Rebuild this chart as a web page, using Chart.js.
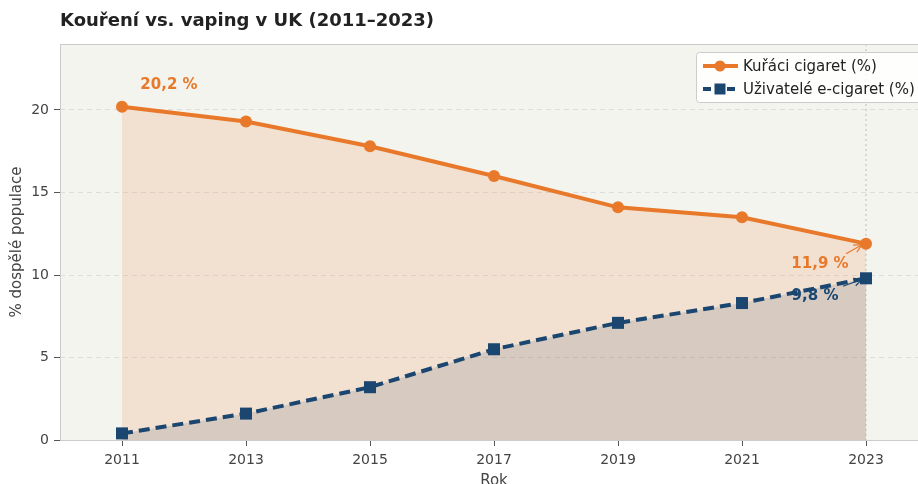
<!DOCTYPE html>
<html>
<head>
<meta charset="utf-8">
<script src="https://cdn.jsdelivr.net/npm/chart.js@4/dist/chart.umd.min.js"></script>
<style>
  html, body { margin: 0; padding: 0; background: #fff; }
  #wrap { width: 918px; height: 484px; }
</style>
</head>
<body>
<div id="wrap"><canvas id="c" width="918" height="484"></canvas></div>
<script>
// --- data ---
const years = [2011, 2013, 2015, 2017, 2019, 2021, 2023];
const smokers = [20.2, 19.3, 17.8, 16.0, 14.1, 13.5, 11.9];
const vapers = [0.4, 1.6, 3.2, 5.5, 7.1, 8.3, 9.8];
const yTicks = [0, 5, 10, 15, 20];
const seriesNames = ['Kuřáci cigaret (%)', 'Uživatelé e-cigaret (%)'];

const ORANGE = '#e8792a';
const NAVY = '#1a4670';
const FONT = '"DejaVu Sans", sans-serif';

// --- custom drawing: background, frame, title, axis titles, annotations, legend ---
const decor = {
    id: 'decor',
    beforeDraw(chart) {
        const { ctx, chartArea: a } = chart;
        ctx.save();
        ctx.fillStyle = '#f4f4ef';
        ctx.fillRect(a.left, a.top, a.right - a.left, a.bottom - a.top);
        ctx.restore();
    },
    beforeDatasetsDraw(chart) {
        const { ctx, chartArea: a, scales } = chart;
        const x = scales.x.getPixelForValue(years[years.length - 1]);
        ctx.save();
        ctx.strokeStyle = '#bbbbbb';
        ctx.lineWidth = 1;
        ctx.setLineDash([2, 3]);
        ctx.beginPath();
        ctx.moveTo(x, a.top);
        ctx.lineTo(x, a.bottom);
        ctx.stroke();
        ctx.restore();
    },
    afterDraw(chart) {
        const { ctx, chartArea: a, scales } = chart;
        ctx.save();
        // frame
        ctx.strokeStyle = '#cccccc';
        ctx.lineWidth = 1;
        ctx.strokeRect(a.left + 0.5, a.top + 0.5, a.right - a.left, a.bottom - a.top);

        // title
        ctx.fillStyle = '#222';
        ctx.font = 'bold 18px ' + FONT;
        ctx.textAlign = 'left';
        ctx.textBaseline = 'middle';
        ctx.fillText('Kouření vs. vaping v UK (2011–2023)', a.left, 21);

        // axis titles
        ctx.fillStyle = '#444';
        ctx.font = '15px ' + FONT;
        ctx.textAlign = 'center';
        ctx.fillText('Rok', scales.x.getPixelForValue(2017), 481);
        ctx.translate(17, (a.top + a.bottom) / 2);
        ctx.rotate(-Math.PI / 2);
        ctx.fillText('% dospělé populace', 0, 0);
        ctx.setTransform(1, 0, 0, 1, 0, 0);

        // annotations
        const px = v => scales.x.getPixelForValue(v);
        const py = v => scales.y.getPixelForValue(v);
        const last = years.length - 1;
        ctx.font = 'bold 15px ' + FONT;
        ctx.fillStyle = ORANGE;
        ctx.fillText(smokers[0].toFixed(1).replace('.', ',') + ' %', px(years[0]) + 47, py(smokers[0]) - 22);

        const arrow = (x0, y0, x1, y1, color) => {
            ctx.strokeStyle = color;
            ctx.lineWidth = 1.2;
            ctx.beginPath();
            ctx.moveTo(x0, y0);
            ctx.lineTo(x1, y1);
            ctx.stroke();
            const ang = Math.atan2(y1 - y0, x1 - x0);
            ctx.beginPath();
            ctx.moveTo(x1 - 9 * Math.cos(ang - 0.45), y1 - 9 * Math.sin(ang - 0.45));
            ctx.lineTo(x1, y1);
            ctx.lineTo(x1 - 9 * Math.cos(ang + 0.45), y1 - 9 * Math.sin(ang + 0.45));
            ctx.stroke();
        };

        const sx = px(years[last]), sy = py(smokers[last]);
        ctx.fillStyle = ORANGE;
        ctx.fillText(smokers[last].toFixed(1).replace('.', ',') + ' %', sx - 46, sy + 20);
        arrow(sx - 20, sy + 10, sx - 4, sy + 1, ORANGE);

        const vx = px(years[last]), vy = py(vapers[last]);
        arrow(vx - 23, vy + 8, vx - 4, vy + 1, NAVY);
        ctx.fillStyle = NAVY;
        ctx.fillText(vapers[last].toFixed(1).replace('.', ',') + ' %', vx - 51, vy + 18);

        // legend
        const lx = 696, ly = 52, lw = 240, lh = 50;
        ctx.fillStyle = 'rgba(255,255,255,0.85)';
        ctx.strokeStyle = '#cccccc';
        ctx.lineWidth = 1;
        ctx.beginPath();
        ctx.roundRect(lx + 0.5, ly + 0.5, lw, lh, 3);
        ctx.fill();
        ctx.stroke();

        const rows = [
            { y: 66, color: ORANGE, dash: [], shape: 'circle' },
            { y: 89, color: NAVY, dash: [8, 4], shape: 'rect' }
        ];
        rows.forEach((r, i) => {
            ctx.strokeStyle = r.color;
            ctx.lineWidth = 4;
            ctx.setLineDash(r.dash);
            ctx.beginPath();
            ctx.moveTo(703, r.y);
            ctx.lineTo(738, r.y);
            ctx.stroke();
            ctx.setLineDash([]);
            ctx.fillStyle = r.color;
            if (r.shape === 'circle') {
                ctx.beginPath();
                ctx.arc(720, r.y, 5.5, 0, Math.PI * 2);
                ctx.fill();
            } else {
                ctx.fillRect(714.5, r.y - 5.5, 11, 11);
            }
            ctx.fillStyle = '#222';
            ctx.font = '15px ' + FONT;
            ctx.textAlign = 'left';
            ctx.fillText(seriesNames[i], 743, r.y + 1);
        });
        ctx.restore();
    }
};

new Chart(document.getElementById('c'), {
    type: 'line',
    data: {
        datasets: [
            {
                label: seriesNames[0],
                data: years.map((y, i) => ({ x: y, y: smokers[i] })),
                borderColor: ORANGE,
                backgroundColor: 'rgba(232,121,42,0.15)',
                pointBackgroundColor: ORANGE,
                pointBorderWidth: 0,
                borderWidth: 4,
                pointRadius: 6,
                pointStyle: 'circle',
                fill: 'origin',
                tension: 0
            },
            {
                label: seriesNames[1],
                data: years.map((y, i) => ({ x: y, y: vapers[i] })),
                borderColor: NAVY,
                backgroundColor: 'rgba(26,70,112,0.15)',
                pointBackgroundColor: NAVY,
                pointBorderWidth: 0,
                borderWidth: 4,
                borderDash: [11, 6],
                pointRadius: 8.5,
                pointStyle: 'rect',
                fill: 'origin',
                tension: 0
            }
        ]
    },
    options: {
        responsive: false,
        animation: false,
        layout: { autoPadding: false, padding: { top: 44, right: 0, left: 0, bottom: 0 } },
        plugins: {
            legend: { display: false },
            tooltip: { enabled: false },
            filler: { drawTime: 'beforeDatasetsDraw' }
        },
        scales: {
            x: {
                type: 'linear',
                min: 2010,
                max: 2010 + (918 - 60) / 62,
                afterBuildTicks: s => { s.ticks = years.map(v => ({ value: v })); },
                afterFit: s => { s.height = 44; },
                border: { display: false },
                grid: { drawOnChartArea: false, tickLength: 6, tickColor: '#555', tickWidth: 1 },
                ticks: { color: '#444', font: { family: FONT, size: 14 }, padding: 6, maxRotation: 0, callback: v => String(v) }
            },
            y: {
                min: 0,
                max: 24,
                afterBuildTicks: s => { s.ticks = yTicks.map(v => ({ value: v })); },
                afterFit: s => { s.width = 60; },
                border: { display: false, dash: [5, 4] },
                grid: { color: '#dddddd', tickLength: 6, tickColor: '#555', tickBorderDash: [], lineWidth: 1 },
                ticks: { color: '#444', font: { family: FONT, size: 14 }, padding: 5 }
            }
        }
    },
    plugins: [decor]
});
</script>
</body>
</html>
